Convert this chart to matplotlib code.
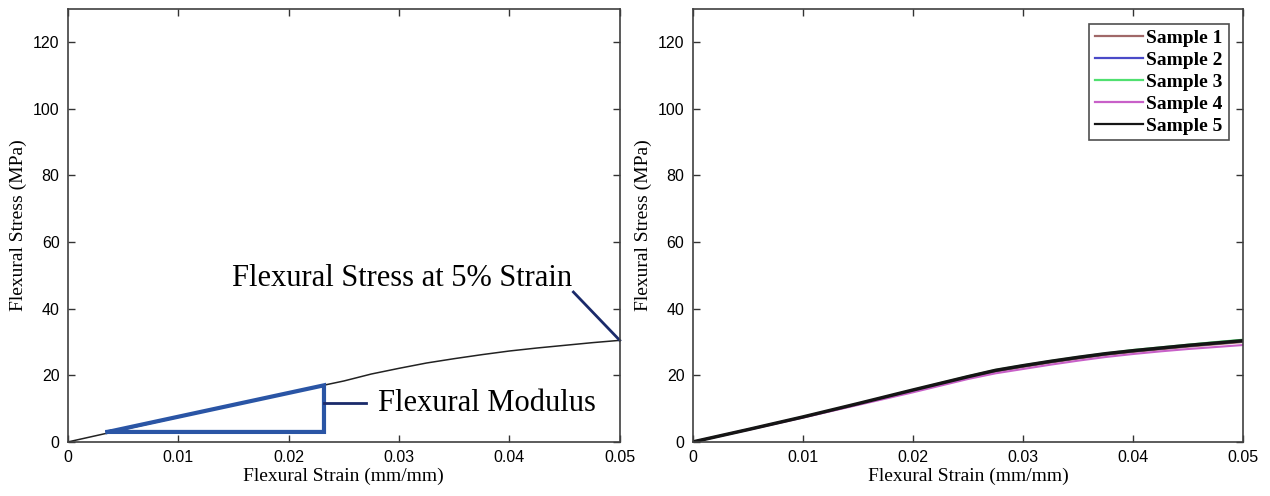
import numpy as np
import matplotlib
matplotlib.use("Agg")
import matplotlib.pyplot as plt

# strain points (mm/mm)
strain = [0, 0.005, 0.01, 0.015, 0.02, 0.025, 0.0275, 0.03, 0.0325, 0.035,
          0.0375, 0.04, 0.0425, 0.045, 0.0475, 0.05]

# left panel: representative curve
stress_rep = [0, 3.7, 7.4, 11.1, 14.8, 18.3, 20.4, 22.1, 23.7, 25.0,
              26.2, 27.3, 28.2, 29.0, 29.8, 30.5]

# right panel: five samples
samples = ["Sample 1", "Sample 2", "Sample 3", "Sample 4", "Sample 5"]
s1 = [0, 3.7, 7.4, 11.3, 15.3, 19.3, 21.1, 22.5, 23.8, 25.0, 26.1, 27.0, 27.8, 28.6, 29.3, 30.0]
s2 = [0, 3.7, 7.5, 11.4, 15.5, 19.5, 21.4, 22.8, 24.1, 25.3, 26.4, 27.3, 28.1, 28.9, 29.6, 30.3]
s3 = [0, 3.7, 7.5, 11.5, 15.6, 19.7, 21.6, 23.0, 24.3, 25.5, 26.6, 27.6, 28.4, 29.2, 30.0, 30.7]
s4 = [0, 3.6, 7.3, 11.1, 14.9, 18.9, 20.6, 21.9, 23.2, 24.4, 25.5, 26.4, 27.2, 27.9, 28.5, 29.1]
s5 = [0, 3.7, 7.5, 11.5, 15.6, 19.6, 21.5, 22.9, 24.2, 25.4, 26.5, 27.4, 28.2, 29.0, 29.7, 30.4]
sample_data = [s1, s2, s3, s4, s5]
sample_colors = ["#a06868", "#4a4ac8", "#50e070", "#c860c8", "#151515"]
sample_widths = [1.5, 1.5, 1.5, 1.5, 2.5]

# flexural modulus triangle (strain, stress)
tri_x = [0.0036, 0.0232, 0.0232, 0.0036]
tri_y = [3.0, 3.0, 17.0, 3.0]

serif = "Liberation Serif"
sans = "Liberation Sans"

fig = plt.figure(figsize=(12.7, 4.96), dpi=100)
ax1 = fig.add_axes([0.0535, 0.109, 0.4345, 0.873])
ax2 = fig.add_axes([0.5455, 0.109, 0.4335, 0.873])

for ax in (ax1, ax2):
    ax.set_xlim(0, 0.05)
    ax.set_ylim(0, 130)
    ax.set_xticks([0, 0.01, 0.02, 0.03, 0.04, 0.05])
    ax.set_xticklabels(["0", "0.01", "0.02", "0.03", "0.04", "0.05"])
    ax.set_yticks([0, 20, 40, 60, 80, 100, 120])
    ax.tick_params(direction="in", top=True, right=True, length=5, width=1,
                   labelsize=11.5, color="#333333", pad=6)
    for lab in ax.get_xticklabels() + ax.get_yticklabels():
        lab.set_fontfamily(sans)
    for sp in ax.spines.values():
        sp.set_color("#404040")
        sp.set_linewidth(1.2)
    ax.set_xlabel("Flexural Strain (mm/mm)", fontfamily=serif, fontsize=14, labelpad=2)
    ax.set_ylabel("Flexural Stress (MPa)", fontfamily=serif, fontsize=14, labelpad=4)

# left panel
ax1.plot(strain, stress_rep, color="#222222", lw=1.1)
ax1.plot(tri_x, tri_y, color="#2a55a5", lw=3, solid_joinstyle="miter")
ax1.plot([0.0232, 0.027], [11.8, 11.8], color="#1a2a6a", lw=2)
ax1.text(0.0281, 11.6, "Flexural Modulus", fontfamily=serif, fontsize=22,
         va="center", ha="left")
ax1.plot([0.0458, 0.05], [45.0, 30.5], color="#1a2a6a", lw=2, clip_on=False)
ax1.text(0.0149, 49.0, "Flexural Stress at 5% Strain", fontfamily=serif, fontsize=22,
         va="center", ha="left")

# right panel
for name, ys, c, w in zip(samples, sample_data, sample_colors, sample_widths):
    ax2.plot(strain, ys, color=c, lw=w, label=name)
leg = ax2.legend(loc="upper right", prop={"family": serif, "weight": "bold", "size": 14},
                 frameon=True, fancybox=False, handlelength=2.5, handletextpad=0.15,
                 borderpad=0.3, labelspacing=0.22, borderaxespad=0.75)
leg.get_frame().set_edgecolor("#222222")
leg.get_frame().set_linewidth(1.2)
for ln in leg.get_lines():
    ln.set_linewidth(1.6)

fig.savefig("out.png", dpi=100)
